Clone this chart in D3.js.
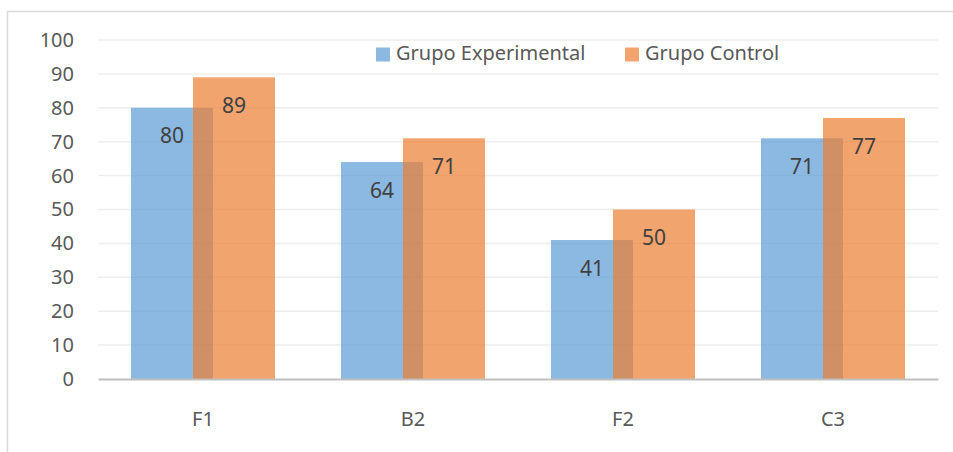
<!DOCTYPE html>
<html><head><meta charset="utf-8">
<script src="https://cdn.jsdelivr.net/npm/d3@7"></script>
<style>body{margin:0;background:#fff}svg{display:block}text{font-family:"Noto Sans",sans-serif}</style>
</head><body>
<svg id="c" width="953" height="452"></svg>
<script>
const categories = ["F1","B2","F2","C3"];
const seriesNames = ["Grupo Experimental","Grupo Control"];
const experimental = [80,64,41,71];
const control = [89,71,50,77];
const yTicks = [0,10,20,30,40,50,60,70,80,90,100];

const svg = d3.select("#c");
const colors = ["#5B9BD5","#ED7D31"];
const W=953,H=452;
const plot = {l:98,r:938,t:40,b:379};

svg.append("rect").attr("x",7.5).attr("y",11.5).attr("width",970).attr("height",470)
  .attr("fill","#fff").attr("stroke","#d9d9d9").attr("stroke-width",1.5);

const x = d3.scaleBand().domain(categories).range([plot.l,plot.r]).padding(0);
const y = d3.scaleLinear().domain([0,100]).range([plot.b,plot.t]);

// gridlines
svg.append("g").selectAll("line").data(yTicks.filter(d=>d>0)).join("line")
  .attr("x1",plot.l).attr("x2",plot.r).attr("y1",d=>y(d)).attr("y2",d=>y(d))
  .attr("stroke","#eeeeee").attr("stroke-width",1.5);

// y axis labels
const yAxis = d3.axisLeft(y).tickValues(yTicks).tickSize(0).tickPadding(0);
const ya = svg.append("g").attr("transform",`translate(74,0)`).call(yAxis);
ya.select(".domain").remove();
ya.selectAll("text").attr("font-size",20).attr("fill","#595959").attr("font-family","Noto Sans");

const bw = x.bandwidth();
const barW = bw*82/210;
const step = barW*62/82;
const groupW = barW+step;
const series = [experimental, control];

series.forEach((vals,si)=>{
  svg.append("g").selectAll("rect").data(categories).join("rect")
    .attr("x",c=>x(c)+bw/2-groupW/2+si*step)
    .attr("width",barW)
    .attr("y",(c,i)=>y(vals[i]))
    .attr("height",(c,i)=>y(0)-y(vals[i]))
    .attr("fill",colors[si]).attr("fill-opacity",0.7);
});

// axis line
const xa = svg.append("g").attr("transform",`translate(0,${plot.b})`)
  .call(d3.axisBottom(x).tickSize(0).tickPadding(0));
xa.select(".domain").attr("stroke","#bfbfbf").attr("stroke-width",2.2);
xa.selectAll("text").attr("font-size",20).attr("fill","#595959").attr("font-family","Noto Sans")
  .attr("dy",null).attr("y",47);

// data labels
series.forEach((vals,si)=>{
  svg.append("g").selectAll("text").data(categories).join("text")
    .attr("x",c=>x(c)+bw/2-groupW/2+si*step+barW/2)
    .attr("y",(c,i)=>y(vals[i])+28)
    .attr("dy","0.36em")
    .attr("text-anchor","middle").attr("font-size",21).attr("fill","#404040")
    .text((c,i)=>vals[i]);
});

// legend
const legX = [376,625];
const lg = svg.append("g");
seriesNames.forEach((n,i)=>{
  lg.append("rect").attr("x",legX[i]).attr("y",47.5).attr("width",14).attr("height",14)
    .attr("fill",colors[i]).attr("fill-opacity",0.7);
  lg.append("text").attr("x",legX[i]+20).attr("y",59.5).attr("font-size",20)
    .attr("fill","#595959").text(n);
});
</script>
</body></html>
